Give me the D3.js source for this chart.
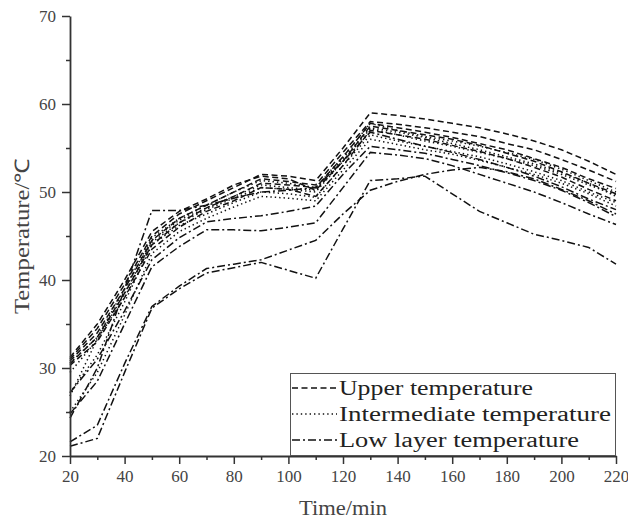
<!DOCTYPE html>
<html>
<head>
<meta charset="utf-8">
<script src="https://cdn.jsdelivr.net/npm/d3@7"></script>
<style>
  html, body { margin: 0; padding: 0; background: #fff; }
  svg { display: block; }
</style>
</head>
<body>
<svg id="chart" width="628" height="522"></svg>
<script>
// time points (min)
const TIME = [20, 30, 40, 50, 60, 70, 80, 90, 100, 110, 120, 130, 140, 150, 160, 170, 180, 190, 200, 210, 220];

// upper layer (dashed)
const upper1 = [31.0, 34.5, 39.5, 45.0, 47.5, 49.0, 50.5, 52.0, 51.8, 51.3, 55.0, 59.0, 58.7, 58.3, 57.8, 57.3, 56.6, 55.8, 54.8, 53.5, 52.0];
const upper2 = [30.8, 34.0, 39.0, 44.5, 47.0, 48.5, 50.0, 51.5, 51.2, 50.8, 54.5, 58.0, 57.7, 57.3, 56.8, 56.3, 55.5, 54.8, 53.7, 52.5, 51.2];
const upper3 = [30.5, 33.5, 38.5, 44.0, 46.5, 48.2, 49.5, 51.0, 50.8, 50.5, 54.0, 57.8, 57.3, 56.8, 56.2, 55.5, 54.8, 53.8, 52.8, 51.5, 50.4];
const upper4 = [31.2, 35.0, 40.0, 45.5, 47.8, 49.2, 50.8, 51.8, 51.5, 50.2, 53.5, 57.5, 57.0, 56.5, 56.0, 55.3, 54.4, 53.5, 52.3, 51.0, 49.8];
const upper5 = [30.3, 33.0, 38.0, 43.5, 46.0, 47.8, 49.0, 50.5, 50.3, 49.5, 53.0, 57.0, 56.5, 56.0, 55.3, 54.6, 53.8, 52.8, 51.7, 50.3, 49.0];

// intermediate layer (dotted)
const mid1 = [30.6, 33.5, 39.0, 44.8, 47.0, 48.5, 50.0, 51.3, 51.0, 50.5, 54.0, 57.8, 57.0, 56.3, 55.8, 55.2, 54.5, 53.7, 52.6, 51.3, 50.0];
const mid2 = [29.5, 33.2, 38.5, 44.3, 46.5, 48.0, 49.3, 50.5, 50.3, 50.0, 53.5, 57.2, 56.5, 55.8, 55.2, 54.5, 53.8, 53.0, 52.0, 50.8, 49.7];
const mid3 = [27.2, 31.5, 37.5, 44.0, 46.2, 47.5, 48.8, 50.0, 49.8, 49.4, 53.0, 56.5, 55.8, 55.2, 54.6, 54.0, 53.2, 52.3, 51.3, 50.0, 48.8];
const mid4 = [25.0, 29.5, 36.0, 43.0, 45.5, 47.0, 48.3, 49.5, 49.3, 49.0, 52.5, 56.0, 55.4, 54.8, 54.3, 53.6, 52.8, 52.0, 51.0, 49.8, 48.4];
const mid5 = [26.8, 33.3, 38.0, 44.5, 46.8, 48.2, 49.5, 50.8, 50.5, 50.2, 53.8, 57.3, 56.8, 56.2, 55.5, 54.8, 54.0, 53.2, 52.2, 51.0, 49.5];

// low layer (dash-dot)
const low1 = [21.1, 22.0, 29.5, 36.8, 39.0, 40.8, 41.4, 42.0, 41.1, 40.2, 45.8, 51.3, 51.5, 51.8, 49.8, 47.8, 46.5, 45.2, 44.5, 43.7, 41.8];
const low2 = [21.6, 23.5, 30.5, 37.0, 39.3, 41.3, 41.8, 42.3, 43.4, 44.5, 47.5, 50.2, 51.2, 52.0, 52.5, 52.8, 52.3, 51.5, 50.3, 49.0, 47.5];
const low3 = [24.3, 30.0, 39.0, 47.9, 47.9, 48.5, 49.3, 50.0, 50.2, 50.5, 53.5, 56.8, 56.0, 55.2, 54.5, 53.7, 52.8, 51.8, 50.6, 49.2, 48.0];
const low4 = [24.8, 28.5, 35.0, 41.5, 43.8, 45.7, 45.7, 45.6, 46.0, 46.5, 50.5, 54.5, 54.2, 53.8, 53.0, 52.0, 51.0, 50.0, 48.8, 47.5, 46.3];
const low5 = [27.2, 31.0, 36.5, 42.3, 44.8, 46.6, 47.0, 47.3, 47.8, 48.4, 52.0, 55.2, 54.8, 54.4, 53.7, 53.0, 52.2, 51.3, 50.2, 48.8, 47.2];

const GROUPS = ['Upper temperature', 'Intermediate temperature', 'Low layer temperature'];
const SERIES = [
  { group: 0, values: upper1 }, { group: 0, values: upper2 }, { group: 0, values: upper3 },
  { group: 0, values: upper4 }, { group: 0, values: upper5 },
  { group: 1, values: mid1 }, { group: 1, values: mid2 }, { group: 1, values: mid3 },
  { group: 1, values: mid4 }, { group: 1, values: mid5 },
  { group: 2, values: low1 }, { group: 2, values: low2 }, { group: 2, values: low3 },
  { group: 2, values: low4 }, { group: 2, values: low5 },
];

const X_TICKS = [20, 40, 60, 80, 100, 120, 140, 160, 180, 200, 220];
const X_MINOR = [30, 50, 70, 90, 110, 130, 150, 170, 190, 210];
const Y_TICKS = [20, 30, 40, 50, 60, 70];
const Y_MINOR = [25, 35, 45, 55, 65];

const DASH = ['6,3.5', '1.4,3', '8,3,2,3'];
const FONT = '"Liberation Serif", "Times New Roman", serif';
const AXIS_COL = '#333';

const svg = d3.select('#chart');
const x = d3.scaleLinear().domain([20, 220]).range([70, 616]);
const y = d3.scaleLinear().domain([20, 70]).range([456, 16]);

// ── Lines ────────────────────────────────────────────────────────────────
const line = d3.line()
  .x((d, i) => x(TIME[i]))
  .y(d => y(d));

svg.append('g').selectAll('path').data(SERIES).join('path')
  .attr('d', d => line(d.values))
  .attr('fill', 'none')
  .attr('stroke', '#111')
  .attr('stroke-width', 1.5)
  .attr('stroke-dasharray', d => DASH[d.group]);

// ── Axes ─────────────────────────────────────────────────────────────────
function styleAxis(g) {
  g.select('.domain').attr('stroke', AXIS_COL).attr('stroke-width', 1.8);
  g.selectAll('.tick line').attr('stroke', AXIS_COL).attr('stroke-width', 1.5);
  g.selectAll('.tick text')
    .attr('fill', '#444')
    .attr('font-family', FONT)
    .attr('font-size', '17px');
}

svg.append('g')
  .attr('transform', `translate(0,${y(20)})`)
  .call(d3.axisBottom(x).tickValues(X_MINOR).tickSize(4).tickFormat('').tickSizeOuter(0))
  .call(g => g.select('.domain').remove())
  .call(styleAxis);
svg.append('g')
  .attr('transform', `translate(0,${y(20)})`)
  .call(d3.axisBottom(x).tickValues(X_TICKS).tickSize(8).tickPadding(6).tickSizeOuter(0))
  .call(styleAxis);

svg.append('g')
  .attr('transform', `translate(${x(20)},0)`)
  .call(d3.axisLeft(y).tickValues(Y_MINOR).tickSize(4).tickFormat('').tickSizeOuter(0))
  .call(g => g.select('.domain').remove())
  .call(styleAxis);
svg.append('g')
  .attr('transform', `translate(${x(20)},0)`)
  .call(d3.axisLeft(y).tickValues(Y_TICKS).tickSize(8).tickPadding(6).tickSizeOuter(0))
  .call(styleAxis);

// ── Axis titles ──────────────────────────────────────────────────────────
svg.append('text')
  .attr('x', (x(20) + x(220)) / 2)
  .attr('y', 515)
  .attr('text-anchor', 'middle')
  .attr('font-family', FONT)
  .attr('font-size', '20px')
  .attr('fill', '#444')
  .attr('textLength', 88)
  .attr('lengthAdjust', 'spacingAndGlyphs')
  .text('Time/min');

svg.append('text')
  .attr('transform', `translate(29,${(y(20) + y(70)) / 2}) rotate(-90)`)
  .attr('text-anchor', 'middle')
  .attr('font-family', FONT)
  .attr('font-size', '20px')
  .attr('fill', '#444')
  .attr('textLength', 156)
  .attr('lengthAdjust', 'spacingAndGlyphs')
  .text('Temperature/℃');

// ── Legend ───────────────────────────────────────────────────────────────
const legend = svg.append('g');
legend.append('rect')
  .attr('x', 290.5).attr('y', 373.5)
  .attr('width', 325).attr('height', 82)
  .attr('fill', '#fff')
  .attr('stroke', '#555')
  .attr('stroke-width', 1);

const LEG_W = [194, 272, 240];
GROUPS.forEach((name, i) => {
  const ly = 388 + i * 26;
  legend.append('line')
    .attr('x1', 292).attr('x2', 337)
    .attr('y1', ly).attr('y2', ly)
    .attr('stroke', '#111')
    .attr('stroke-width', 1.5)
    .attr('stroke-dasharray', DASH[i]);
  legend.append('text')
    .attr('x', 339).attr('y', ly + 7)
    .attr('font-family', FONT)
    .attr('font-size', '20px')
    .attr('fill', '#222')
    .attr('textLength', LEG_W[i])
    .attr('lengthAdjust', 'spacingAndGlyphs')
    .text(name);
});
</script>
</body>
</html>
